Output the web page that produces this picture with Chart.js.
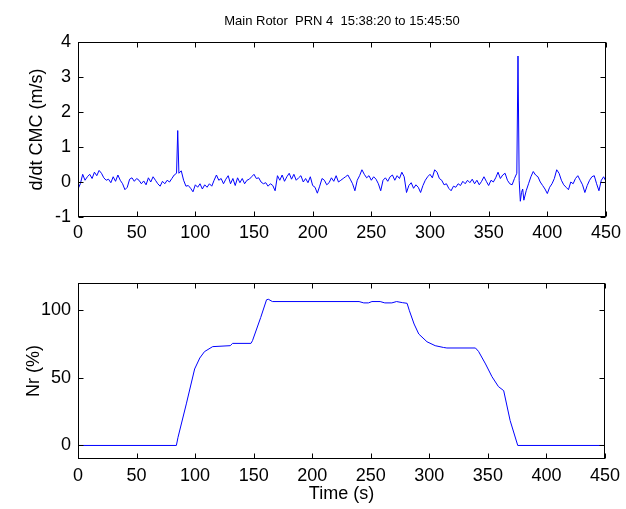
<!DOCTYPE html>
<html>
<head>
<meta charset="utf-8">
<script src="https://cdn.jsdelivr.net/npm/chart.js@4/dist/chart.umd.min.js"></script>
<style>
  body { margin: 0; background: #fff; }
  #figura { position: relative; width: 626px; height: 509px; background: #fff; }
  #figura canvas { position: absolute; left: 0; }
</style>
</head>
<body>
<div id="figura">
  <canvas id="lienzoCmc" width="626" height="250" style="top:0"></canvas>
  <canvas id="lienzoNr" width="626" height="259" style="top:250px"></canvas>
</div>
<script>
// --- datos ---
const tituloFigura = 'Main Rotor  PRN 4  15:38:20 to 15:45:50';

// d/dt CMC (m/s) frente al tiempo (s)
const tiemposCmc = [
  0, 2, 4, 6, 8, 10, 12, 14, 16, 18,
  20, 22, 24, 26, 28, 30, 32, 34, 36, 38,
  40, 42, 44, 46, 48, 50, 52, 54, 56, 58,
  60, 62, 64, 66, 68, 70, 72, 74, 76, 78,
  80, 82, 84, 85, 86, 88, 90, 92, 94, 96,
  98, 100, 102, 104, 106, 108, 110, 112, 114, 116,
  118, 120, 122, 124, 126, 128, 130, 132, 134, 136,
  138, 140, 142, 144, 146, 148, 150, 152, 154, 156,
  158, 160, 162, 164, 166, 168, 170, 172, 174, 176,
  178, 180, 182, 184, 186, 188, 190, 192, 194, 196,
  198, 200, 202, 204, 206, 208, 210, 212, 214, 216,
  218, 220, 222, 224, 226, 228, 230, 232, 234, 236,
  238, 240, 242, 244, 246, 248, 250, 252, 254, 256,
  258, 260, 262, 264, 266, 268, 270, 272, 274, 276,
  278, 280, 282, 284, 286, 288, 290, 292, 294, 296,
  298, 300, 302, 304, 306, 308, 310, 312, 314, 316,
  318, 320, 322, 324, 326, 328, 330, 332, 334, 336,
  338, 340, 342, 344, 346, 348, 350, 352, 354, 356,
  358, 360, 362, 364, 366, 368, 370, 372, 374, 375,
  376, 377, 378, 379, 380, 382, 384, 386, 388, 390,
  392, 394, 396, 398, 400, 402, 404, 406, 408, 410,
  412, 414, 416, 418, 420, 422, 424, 426, 428, 430,
  432, 434, 436, 438, 440, 442, 444, 446, 448, 450
];
const valoresCmc = [
  -0.20, -0.05, 0.22, 0.05, 0.15, 0.22, 0.10, 0.28, 0.18, 0.33,
  0.25, 0.12, 0.05, 0.08, -0.02, 0.15, 0.02, 0.20, 0.05, -0.05,
  -0.22, -0.15, 0.08, 0.12, 0.02, 0.10, 0.05, -0.05, 0.03, -0.08,
  0.12, 0.00, 0.15, 0.05, -0.05, -0.12, 0.02, -0.05, 0.05, 0.00,
  0.10, 0.20, 0.25, 1.47, 0.25, 0.32, 0.05, -0.12, -0.10, -0.18,
  -0.28, -0.08, -0.15, -0.05, -0.20, -0.08, -0.15, -0.05, -0.12, 0.05,
  0.20, 0.05, 0.10, -0.05, 0.08, 0.18, -0.05, 0.10, -0.10, 0.12,
  -0.02, 0.10, -0.05, 0.05, 0.08, 0.15, 0.22, 0.10, 0.12, 0.00,
  -0.05, -0.02, -0.12, -0.05, -0.10, -0.25, 0.18, 0.05, 0.20, 0.02,
  0.15, 0.25, 0.08, 0.22, 0.05, 0.12, 0.18, 0.00, 0.10, -0.02,
  0.15, -0.10, -0.15, -0.32, -0.12, 0.10, 0.05, -0.08, -0.02, 0.12,
  0.02, 0.18, 0.00, 0.05, 0.10, 0.15, 0.20, 0.08, -0.05, -0.25,
  0.05, 0.18, 0.35, 0.22, 0.12, 0.18, 0.05, 0.15, 0.08, -0.05,
  -0.25, 0.05, 0.12, 0.02, 0.15, 0.20, 0.05, 0.18, 0.10, 0.28,
  0.15, -0.30, -0.10, -0.02, -0.18, -0.08, -0.15, -0.30, -0.10, 0.05,
  0.15, 0.22, 0.12, 0.35, 0.28, 0.10, 0.05, -0.08, -0.05, -0.18,
  -0.25, -0.12, -0.15, -0.05, -0.10, 0.02, -0.05, 0.05, -0.02, 0.08,
  -0.05, 0.05, -0.08, 0.02, 0.15, 0.02, -0.10, 0.05, 0.00, 0.12,
  0.28, 0.10, 0.20, 0.25, 0.05, -0.05, -0.08, 0.10, 0.25, 3.60,
  0.05, -0.55, -0.30, -0.20, -0.52, -0.25, -0.05, 0.15, 0.30, 0.20,
  0.15, 0.00, -0.10, -0.20, -0.33, -0.15, -0.05, 0.10, 0.35, 0.25,
  0.05, -0.08, -0.15, -0.22, 0.00, -0.05, 0.10, 0.18, 0.05, -0.08,
  -0.30, -0.10, 0.05, 0.15, 0.18, -0.05, -0.25, 0.05, 0.15, 0.02
];

// Nr (%) frente al tiempo (s)
const tiemposNr = [
  0, 84, 85.4, 92.5, 99.6, 104, 108, 115, 130, 132,
  147.7, 149, 156, 161, 162.5, 166, 240, 244, 248, 251,
  258, 262, 268, 272, 277, 281, 283, 287, 291, 298,
  305, 312, 315, 339.4, 342, 348, 353.5, 359, 363.5, 369,
  375.5, 450
];
const valoresNr = [
  0, 0, 6, 30.7, 56.5, 64.6, 69.3, 73, 73.7, 75.4,
  75.4, 77.4, 94.5, 107.6, 108, 106.3, 106.3, 105.3, 105.3, 106.3,
  106.3, 105.3, 105.3, 106.3, 105.5, 105, 99.5, 89.7, 82.3, 76.6,
  73.7, 72.4, 72, 72, 69.5, 60.2, 50.8, 43.5, 40.5, 18.4,
  0, 0
];

// marcas de los ejes
const marcasTiempo = [0, 50, 100, 150, 200, 250, 300, 350, 400, 450];
const marcasCmc = [-1, 0, 1, 2, 3, 4];
const marcasNr = [0, 50, 100];

// --- estilo ---
const fuente = '"Liberation Sans", Arial, Helvetica, sans-serif';
const azul = '#0000ff';

function aPuntos(xs, ys) {
  return xs.map((x, i) => ({ x: x, y: ys[i] }));
}

function fijarMarcas(valores) {
  return (escala) => { escala.ticks = valores.map(v => ({ value: v })); };
}

/**
 * caja negra alrededor del area y marcas hacia dentro, como en matlab
 */
const cajaMatlab = {
  id: 'cajaMatlab',
  afterDatasetsDraw(chart) {
    const { ctx, chartArea: a, scales } = chart;
    const largo = 5;
    const izq = Math.round(a.left) + 0.5, der = Math.round(a.right) - 0.5;
    const arr = Math.round(a.top) + 0.5, abj = Math.round(a.bottom) - 0.5;
    ctx.save();
    ctx.strokeStyle = '#000';
    ctx.lineWidth = 1;
    ctx.beginPath();
    scales.x.ticks.forEach(t => {
      const px = Math.round(scales.x.getPixelForValue(t.value)) + 0.5;
      ctx.moveTo(px, abj); ctx.lineTo(px, abj - largo);
      ctx.moveTo(px, arr); ctx.lineTo(px, arr + largo);
    });
    scales.y.ticks.forEach(t => {
      const py = Math.round(scales.y.getPixelForValue(t.value)) + 0.5;
      ctx.moveTo(izq, py); ctx.lineTo(izq + largo, py);
      ctx.moveTo(der, py); ctx.lineTo(der - largo, py);
    });
    ctx.stroke();
    ctx.strokeRect(izq, arr, der - izq, abj - arr);
    ctx.restore();
  }
};

function ejeX(alto, conTitulo, relleno) {
  return {
    type: 'linear',
    min: 0,
    max: 450,
    afterBuildTicks: fijarMarcas(marcasTiempo),
    afterFit: (escala) => { escala.height = alto; },
    grid: { display: false, drawTicks: false },
    border: { display: false },
    ticks: { color: '#000', padding: relleno, maxRotation: 0, autoSkip: false, font: { family: fuente, size: 18 } },
    title: {
      display: conTitulo,
      text: 'Time (s)',
      color: '#000',
      font: { family: fuente, size: 18 },
      padding: { top: 0, bottom: 4 }
    }
  };
}

function ejeY(min, max, marcas, titulo, rellenoTitulo) {
  return {
    min: min,
    max: max,
    afterBuildTicks: fijarMarcas(marcas),
    afterFit: (escala) => { escala.width = 78; },
    grid: { display: false, drawTicks: false },
    border: { display: false },
    ticks: { color: '#000', padding: 7, font: { family: fuente, size: 18 } },
    title: {
      display: true,
      text: titulo,
      color: '#000',
      font: { family: fuente, size: 18 },
      padding: { top: rellenoTitulo, bottom: 0 }
    }
  };
}

const graficoCmc = new Chart(document.getElementById('lienzoCmc'), {
  type: 'line',
  data: {
    datasets: [{
      data: aPuntos(tiemposCmc, valoresCmc),
      borderColor: azul,
      borderWidth: 1,
      pointRadius: 0,
      tension: 0
    }]
  },
  options: {
    responsive: false,
    animation: false,
    events: [],
    layout: { padding: { left: 0, right: 18, top: 0, bottom: 0 } },
    plugins: {
      legend: { display: false },
      tooltip: { enabled: false },
      title: {
        display: true,
        fullSize: false,
        text: tituloFigura,
        color: '#000',
        font: { family: fuente, size: 13, weight: 'normal' },
        padding: { top: 14, bottom: 12.4 }
      }
    },
    scales: {
      x: ejeX(33, false, 5),
      y: ejeY(-1, 4, marcasCmc, 'd/dt CMC (m/s)', 26)
    }
  },
  plugins: [cajaMatlab]
});

const graficoNr = new Chart(document.getElementById('lienzoNr'), {
  type: 'line',
  data: {
    datasets: [{
      data: aPuntos(tiemposNr, valoresNr),
      borderColor: azul,
      borderWidth: 1,
      pointRadius: 0,
      tension: 0
    }]
  },
  options: {
    responsive: false,
    animation: false,
    events: [],
    layout: { padding: { left: 0, right: 18, top: 33, bottom: 0 } },
    plugins: {
      legend: { display: false },
      tooltip: { enabled: false },
      title: { display: false }
    },
    scales: {
      x: ejeX(50, true, 6),
      y: ejeY(-10, 120, marcasNr, 'Nr (%)', 23)
    }
  },
  plugins: [cajaMatlab]
});
</script>
</body>
</html>
